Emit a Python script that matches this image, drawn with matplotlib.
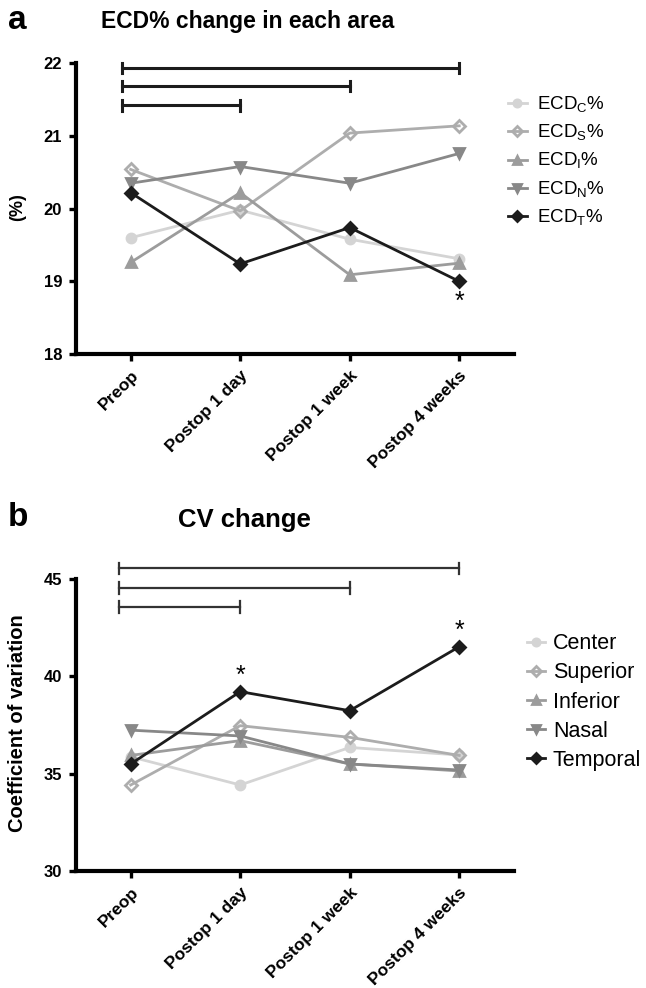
import matplotlib
matplotlib.use("Agg")
import matplotlib.pyplot as plt

# time points on the x axis
timepoints = ["Preop", "Postop 1 day", "Postop 1 week", "Postop 4 weeks"]

# panel a: ECD% per area
ecd_center = [19.60, 19.98, 19.58, 19.31]
ecd_superior = [20.54, 19.97, 21.04, 21.14]
ecd_inferior = [19.26, 20.22, 19.09, 19.25]
ecd_nasal = [20.35, 20.58, 20.35, 20.76]
ecd_temporal = [20.22, 19.24, 19.74, 19.00]
ecd_labels = ["ECD$_{\\rm C}$%", "ECD$_{\\rm S}$%", "ECD$_{\\rm I}$%",
              "ECD$_{\\rm N}$%", "ECD$_{\\rm T}$%"]

# panel b: coefficient of variation per area
cv_center = [35.86, 34.41, 36.34, 35.95]
cv_superior = [34.41, 37.46, 36.86, 35.93]
cv_inferior = [35.93, 36.69, 35.49, 35.13]
cv_nasal = [37.23, 36.93, 35.49, 35.18]
cv_temporal = [35.49, 39.21, 38.23, 41.52]
cv_labels = ["Center", "Superior", "Inferior", "Nasal", "Temporal"]

# comparison brackets (Preop vs each later time point)
ecd_bracket_y = [21.42, 21.69, 21.94]
cv_bracket_y = [43.58, 44.55, 45.55]
bracket_ends = [1, 2, 3]

plt.rcParams['font.family'] = ['Liberation Sans', 'DejaVu Sans']
plt.rcParams['mathtext.fontset'] = 'custom'
plt.rcParams['mathtext.rm'] = 'Liberation Sans'

colors = ["#d4d4d4", "#adadad", "#9c9c9c", "#888888", "#1c1c1c"]
markers = ["o", "D", "^", "v", "D"]
mfc = ["#d4d4d4", "none", "#9c9c9c", "#888888", "#1c1c1c"]


def style_axes(ax, ylim, yticks):
    ax.set_xlim(-0.5, 3.5)
    ax.set_ylim(*ylim)
    ax.set_yticks(yticks)
    ax.set_xticks(range(len(timepoints)))
    ax.set_xticklabels(timepoints, rotation=45, ha="right", rotation_mode="anchor",
                       fontsize=12.5, fontweight="bold")
    for lab in ax.get_yticklabels():
        lab.set_fontweight("bold")
        lab.set_fontsize(12)
    for s in ["top", "right"]:
        ax.spines[s].set_visible(False)
    for s in ["left", "bottom"]:
        ax.spines[s].set_linewidth(3.0)
    ax.tick_params(width=2.4, length=5, direction="out", pad=5)


def draw_series(ax, series, labels):
    handles = []
    for vals, c, m, f, lab in zip(series, colors, markers, mfc, labels):
        h, = ax.plot(range(len(vals)), vals, color=c, marker=m, mfc=f, mec=c,
                     mew=2.0, ms=6.5, lw=2.0, label=lab)
        handles.append(h)
    return handles


def draw_brackets(ax, ys, start, lw, color, capsize):
    for end, y in zip(bracket_ends, ys):
        ax.plot([start, end], [y, y], color=color, lw=lw, clip_on=False)
        for x in (start, end):
            ax.plot([x, x], [y - capsize, y + capsize], color=color, lw=lw, clip_on=False)


fig = plt.figure(figsize=(6.46, 9.88), dpi=100)

# ---------- panel a ----------
ax1 = fig.add_axes([0.1176, 0.6417, 0.678, 0.2942])
h1 = draw_series(ax1, [ecd_center, ecd_superior, ecd_inferior, ecd_nasal, ecd_temporal], ecd_labels)
style_axes(ax1, (18, 22), [18, 19, 20, 21, 22])
draw_brackets(ax1, ecd_bracket_y, -0.08, 2.2, "#1c1c1c", 0.07)
ax1.text(3, 18.72, "*", ha="center", va="center", fontsize=18)
ax1.set_ylabel("(%)", fontsize=13, fontweight="bold")
ax1.yaxis.set_label_coords(-0.114, 0.506)
fig.legend(handles=h1, loc="upper left", bbox_to_anchor=(0.786, 0.904), frameon=False,
           borderpad=0, borderaxespad=0, fontsize=13.5, handlelength=1.0,
           handletextpad=0.55, labelspacing=0.42, markerscale=0.8)
fig.text(0.012, 0.979, "a", fontsize=24, fontweight="bold", va="center")
fig.text(0.156, 0.978, "ECD% change in each area", fontsize=16.5, fontweight="bold", va="center")

# ---------- panel b ----------
ax2 = fig.add_axes([0.1176, 0.1187, 0.678, 0.2952])
h2 = draw_series(ax2, [cv_center, cv_superior, cv_inferior, cv_nasal, cv_temporal], cv_labels)
style_axes(ax2, (30, 45), [30, 35, 40, 45])
draw_brackets(ax2, cv_bracket_y, -0.11, 1.6, "#333333", 0.3)
ax2.text(1, 40.0, "*", ha="center", va="center", fontsize=18)
ax2.text(3, 42.35, "*", ha="center", va="center", fontsize=18)
ax2.set_ylabel("Coefficient of variation", fontsize=14.5, fontweight="bold")
ax2.yaxis.set_label_coords(-0.112, 0.505)
fig.legend(handles=h2, loc="upper left", bbox_to_anchor=(0.816, 0.359), frameon=False,
           borderpad=0, borderaxespad=0, fontsize=15.5, handlelength=0.85,
           handletextpad=0.35, labelspacing=0.38, markerscale=0.8)
fig.text(0.012, 0.476, "b", fontsize=24, fontweight="bold", va="center")
fig.text(0.2755, 0.474, "CV change", fontsize=18.5, fontweight="bold", va="center")

fig.savefig("out.png", dpi=100)
